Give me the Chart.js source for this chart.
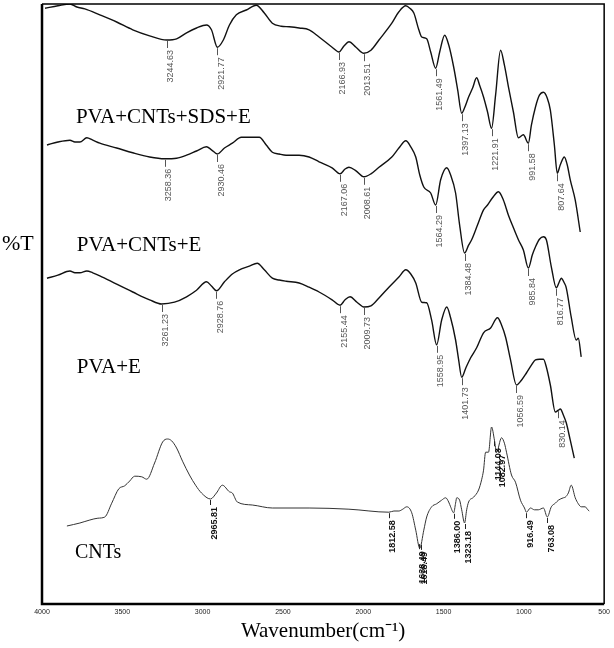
<!DOCTYPE html>
<html lang="en">
<head>
<meta charset="UTF-8">
<title>FTIR spectra</title>
<script src="https://cdn.jsdelivr.net/npm/chart.js"></script>
<style>
  body { margin: 0; background: #fff; }
  #ftir { display: block; }
</style>
</head>
<body>
<canvas id="ftir" width="614" height="648"></canvas>
<script>
// axis
const xTicks = [4000, 3500, 3000, 2500, 2000, 1500, 1000, 500];
const names = ['PVA+CNTs+SDS+E', 'PVA+CNTs+E', 'PVA+E', 'CNTs'];

// PVA+CNTs+SDS+E (offset %T)
const wnSDS = [3981,3901,3826,3783,3733,3640,3535,3435,3330,3224,3162,3100,3038,2976,2945,2908,2871,2833,2790,2728,
  2666,2616,2566,2511,2461,2399,2337,2275,2194,2151,2120,2089,2045,1996,1952,1902,1822,1778,1735,1710,
  1685,1654,1636,1605,1580,1549,1524,1493,1468,1437,1412,1387,1369,1344,1319,1294,1276,1251,1226,1201,
  1176,1145,1121,1096,1065,1034,1003,972,953,928,903,878,854,835,810,792,773,748,730,711,680,649];
const tSDS = [99.3,99.7,100.0,99.5,99.2,98.2,97.0,95.7,94.7,94.0,94.2,95.2,96.0,96.5,95.7,92.8,94.0,96.5,98.2,99.0,
  99.8,98.5,96.8,96.3,96.2,96.0,95.7,94.5,92.8,92.0,93.0,93.7,92.8,91.8,92.3,94.0,96.8,98.7,99.7,99.3,
  98.5,95.7,94.5,94.2,92.0,89.3,92.0,94.8,93.2,89.5,85.7,81.8,82.7,84.5,86.0,87.7,86.5,84.5,82.0,79.3,
  84.8,92.3,89.8,86.2,82.0,77.7,78.2,76.8,79.8,82.8,84.8,85.3,84.3,82.3,76.5,71.8,73.2,74.5,73.2,70.7,67.3,62.0];

// PVA+CNTs+E
const wnCNTE = [3969,3901,3826,3795,3764,3721,3684,3640,3535,3435,3330,3237,3162,3100,3038,2976,2945,2908,2864,2815,
  2759,2709,2647,2604,2566,2523,2480,2399,2337,2275,2194,2144,2113,2089,2045,1996,1952,1902,1822,1778,
  1735,1704,1673,1648,1623,1580,1549,1518,1480,1456,1425,1400,1369,1344,1325,1288,1251,1226,1195,1158,
  1127,1096,1065,1034,1003,972,947,928,903,878,860,829,798,779,767,748,736,705,674,661,643];
const tCNTE = [76.5,77.0,77.3,77.0,77.0,77.7,77.3,76.8,76.0,75.2,74.5,74.2,74.3,74.8,75.5,76.2,75.7,75.0,76.0,76.8,
  77.8,77.8,77.8,76.5,75.3,75.0,74.8,74.8,74.5,73.7,72.7,71.7,72.5,72.8,72.2,71.2,71.7,72.8,74.5,76.0,
  77.2,76.2,74.5,71.5,69.5,68.5,66.5,70.7,72.7,71.5,68.5,63.2,58.5,59.8,60.7,63.2,65.7,66.5,67.7,68.7,
  67.3,64.8,62.7,60.7,59.0,56.0,58.2,59.5,60.8,61.2,60.7,56.2,52.7,53.7,54.3,53.5,52.7,47.8,44.0,44.3,41.2];

// PVA+E
const wnPVAE = [3969,3901,3826,3795,3764,3721,3684,3640,3535,3435,3330,3255,3175,3100,3038,2976,2945,2914,2864,2815,
  2771,2709,2660,2616,2566,2523,2480,2399,2337,2275,2194,2144,2113,2082,2039,1996,1952,1902,1840,1778,
  1735,1704,1673,1636,1605,1574,1543,1512,1480,1456,1425,1406,1387,1362,1332,1294,1251,1207,1164,1139,
  1114,1083,1046,1015,984,953,928,903,878,860,835,804,785,773,754,736,711,686];
const tPVAE = [54.3,54.8,55.5,55.2,55.2,55.5,55.2,54.7,53.3,52.0,50.7,50.0,50.3,51.2,52.3,53.7,53.0,52.2,53.7,55.0,
  55.7,56.3,56.8,55.7,54.3,54.0,53.8,53.5,52.8,52.0,50.7,49.8,50.7,51.2,50.3,49.5,49.7,51.0,52.8,54.5,
  55.7,55.0,53.5,50.3,50.2,47.3,43.2,47.3,49.5,47.7,44.0,40.7,37.8,39.3,41.0,42.7,45.2,46.0,47.7,46.5,
  44.5,40.7,36.5,37.3,38.5,39.8,40.7,40.8,40.8,39.5,36.5,32.0,32.3,32.5,31.5,30.2,27.3,24.3];

// CNTs
const wnCNT = [3845,3764,3702,3652,3609,3566,3522,3485,3454,3423,3379,3348,3299,3249,3218,3193,3162,3125,3082,3044,
  3007,2951,2914,2877,2833,2815,2784,2691,2566,2337,2089,1840,1809,1778,1754,1729,1698,1673,1648,1623,
  1605,1574,1543,1512,1487,1468,1456,1437,1425,1418,1400,1387,1369,1356,1344,1313,1282,1263,1251,1238,
  1220,1201,1183,1170,1139,1121,1108,1077,1052,1021,996,984,959,934,910,878,854,829,804,785,
  754,742,723,705,680,661,643,618,605,593];
const tCNT = [13.0,13.5,14.0,14.3,14.5,16.8,19.2,19.7,20.5,21.3,21.2,20.8,23.5,27.0,27.5,27.2,26.0,23.8,21.5,19.8,
  18.5,17.5,18.5,19.8,18.7,18.5,17.0,16.5,16.0,16.0,15.8,15.3,15.5,15.5,15.8,16.2,15.2,12.3,9.3,12.3,
  14.5,16.2,16.7,17.3,17.7,17.0,16.2,15.2,16.8,17.7,17.3,15.7,13.5,15.7,17.0,17.8,19.0,20.7,22.3,25.3,
  25.3,29.5,27.3,25.3,27.7,26.8,25.3,21.5,20.3,17.3,16.0,15.3,16.0,15.7,15.7,16.0,14.5,16.2,16.8,17.3,
  17.7,17.8,18.5,19.8,17.7,16.7,16.2,16.2,15.8,15.5];

// peak picks: [position on axis, printed value]
const peaksSDS = [[3224,'3244.63'],[2908,'2921.77'],[2151,'2166.93'],[1996,'2013.51'],[1549,'1561.49'],
  [1387,'1397.13'],[1201,'1221.91'],[972,'991.58'],[792,'807.64']];
const peaksCNTE = [[3237,'3258.36'],[2908,'2930.46'],[2144,'2167.06'],[1996,'2008.61'],[1549,'1564.29'],
  [1369,'1384.48'],[972,'985.84'],[798,'816.77']];
const peaksPVAE = [[3255,'3261.23'],[2914,'2928.76'],[2144,'2155.44'],[1996,'2009.73'],[1543,'1558.95'],
  [1387,'1401.73'],[1046,'1056.59'],[785,'830.14']];
const peaksCNT = [[2951,'2965.81'],[1840,'1812.58'],[1655,'1638.49'],[1642,'1618.49'],[1437,'1386.00'],
  [1369,'1323.18'],[1183,'1144.03'],[1158,'1082.97'],[984,'916.49'],[854,'763.08']];

const toXY = (wn, t) => wn.map((w, i) => ({ x: w, y: t[i] }));

function valueAt(wn, t, w) {
  for (let i = 0; i < wn.length - 1; i++) {
    if (wn[i] >= w && w >= wn[i + 1]) {
      const f = (wn[i] - w) / (wn[i] - wn[i + 1]);
      return t[i] + f * (t[i + 1] - t[i]);
    }
  }
  return t[t.length - 1];
}

const series = [
  { wn: wnSDS, t: tSDS, peaks: peaksSDS },
  { wn: wnCNTE, t: tCNTE, peaks: peaksCNTE },
  { wn: wnPVAE, t: tPVAE, peaks: peaksPVAE },
  { wn: wnCNT, t: tCNT, peaks: peaksCNT }
];

const serif = '"Liberation Serif", "Times New Roman", serif';
const narrow = '"Liberation Sans Narrow", "Arial Narrow", "Liberation Sans", sans-serif';

// frame, peak picks and the text written on the plot
const annotate = {
  id: 'annotate',
  afterDatasetsDraw(chart) {
    const { ctx, chartArea: a, scales: { x, y } } = chart;
    ctx.save();

    // peak picks
    series.forEach((s, si) => {
      const cnt = si === 3;
      s.peaks.forEach(([w, label]) => {
        const px = x.getPixelForValue(w);
        const py = y.getPixelForValue(valueAt(s.wn, s.t, w));
        const len = cnt ? 5 : 7;
        ctx.strokeStyle = cnt ? '#222' : '#555';
        ctx.lineWidth = 1;
        ctx.beginPath();
        ctx.moveTo(Math.round(px) + 0.5, py + 1);
        ctx.lineTo(Math.round(px) + 0.5, py + 1 + len);
        ctx.stroke();
        ctx.save();
        ctx.translate(px + 4, py + len + 3);
        ctx.rotate(-Math.PI / 2);
        ctx.textAlign = 'right';
        ctx.textBaseline = 'middle';
        ctx.fillStyle = cnt ? '#111' : '#555';
        ctx.font = cnt ? 'bold 9px ' + narrow : '9px "Liberation Sans", Arial, sans-serif';
        ctx.fillText(label, 0, 0);
        ctx.restore();
      });
    });

    // sample names
    const spots = [[3789, 80.2], [3783, 58.8], [3783, 38.5], [3795, 7.7]];
    ctx.fillStyle = '#000';
    ctx.textAlign = 'left';
    ctx.textBaseline = 'alphabetic';
    names.forEach((n, i) => {
      ctx.font = (i === 3 ? '20px ' : '21px ') + serif;
      ctx.fillText(n, x.getPixelForValue(spots[i][0]), y.getPixelForValue(spots[i][1]));
    });

    // %T on the left
    ctx.font = '22px ' + serif;
    ctx.fillText('%T', 2, y.getPixelForValue(59));

    // frame
    ctx.strokeStyle = '#000';
    ctx.lineWidth = 1.5;
    ctx.beginPath();
    ctx.moveTo(a.left, a.top);
    ctx.lineTo(a.right, a.top);
    ctx.lineTo(a.right, a.bottom);
    ctx.stroke();
    ctx.lineWidth = 2.5;
    ctx.beginPath();
    ctx.moveTo(a.left, a.top);
    ctx.lineTo(a.left, a.bottom);
    ctx.lineTo(a.right, a.bottom);
    ctx.stroke();
    ctx.restore();
  }
};

new Chart(document.getElementById('ftir'), {
  type: 'line',
  data: {
    datasets: series.map((s, i) => ({
      label: names[i],
      data: toXY(s.wn, s.t),
      borderColor: i === 3 ? '#333' : '#111',
      borderWidth: i === 3 ? 1 : 1.4,
      pointRadius: 0,
      cubicInterpolationMode: 'monotone',
      fill: false
    }))
  },
  options: {
    responsive: false,
    animation: false,
    devicePixelRatio: 1,
    layout: { padding: { left: 42, right: 8, top: 4, bottom: 0 } },
    plugins: {
      legend: { display: false },
      tooltip: { enabled: false }
    },
    scales: {
      x: {
        type: 'linear',
        reverse: true,
        min: 500,
        max: 4000,
        afterBuildTicks: s => { s.ticks = xTicks.map(v => ({ value: v })); },
        afterFit: s => { s.height = 44; },
        grid: { display: false, drawTicks: false },
        border: { display: false },
        ticks: {
          padding: 4,
          maxRotation: 0,
          autoSkip: false,
          color: '#222',
          font: { family: narrow, size: 7 },
          callback: v => String(v)
        },
        title: {
          display: true,
          text: 'Wavenumber(cm\u207B\u00B9)',
          color: '#000',
          padding: { top: 0, bottom: 4 },
          font: { family: serif, size: 21 }
        }
      },
      y: {
        display: false,
        min: 0,
        max: 100
      }
    }
  },
  plugins: [annotate]
});
</script>
</body>
</html>
